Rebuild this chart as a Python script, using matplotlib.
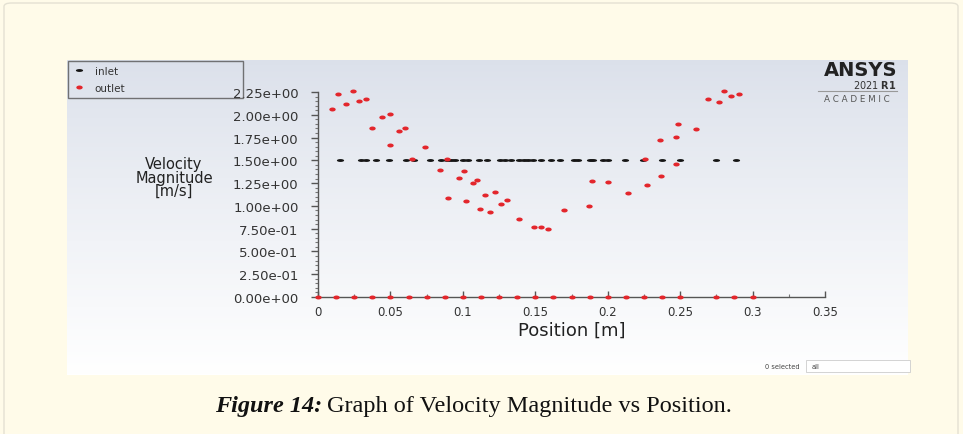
import numpy as np
import matplotlib
matplotlib.use("Agg")
import matplotlib.pyplot as plt
from matplotlib.path import Path
from matplotlib.patches import Rectangle, FancyBboxPatch
from matplotlib.ticker import MultipleLocator, AutoMinorLocator, FuncFormatter

# inlet samples (all at the same speed)
inlet_x = [0.0155, 0.030, 0.033, 0.040, 0.049, 0.061, 0.066, 0.077, 0.085, 0.089,
           0.092, 0.0945, 0.0998, 0.1037, 0.111, 0.117, 0.1255, 0.129, 0.133, 0.139,
           0.142, 0.145, 0.1485, 0.154, 0.161, 0.167, 0.1766, 0.1795, 0.1876, 0.190,
           0.197, 0.200, 0.2117, 0.2244, 0.2377, 0.250, 0.275, 0.2887]
inlet_v = [1.5] * len(inlet_x)

# outlet samples, core of the profile
outlet_x = [0.010, 0.014, 0.019, 0.024, 0.0285, 0.033, 0.037, 0.044, 0.050, 0.050,
            0.056, 0.060, 0.065, 0.074, 0.084, 0.089, 0.090, 0.097, 0.1007, 0.102,
            0.107, 0.110, 0.112, 0.115, 0.119, 0.122, 0.126, 0.1306, 0.139, 0.149,
            0.154, 0.1586, 0.170, 0.187, 0.189, 0.200, 0.214, 0.2255, 0.227, 0.236,
            0.237, 0.247, 0.247, 0.2485, 0.261, 0.2694, 0.2768, 0.280, 0.285, 0.2906]
outlet_v = [2.06, 2.23, 2.12, 2.26, 2.15, 2.17, 1.86, 1.98, 2.01, 1.67,
            1.82, 1.86, 1.51, 1.65, 1.39, 1.51, 1.09, 1.31, 1.38, 1.05,
            1.25, 1.28, 0.97, 1.12, 0.93, 1.15, 1.02, 1.06, 0.855, 0.764,
            0.764, 0.75, 0.95, 1.00, 1.27, 1.26, 1.14, 1.51, 1.23, 1.72,
            1.33, 1.455, 1.76, 1.90, 1.84, 2.17, 2.14, 2.26, 2.21, 2.23]

# outlet samples sitting on the wall (zero velocity)
wall_x = [0, 0.0125, 0.025, 0.0375, 0.05, 0.0625, 0.075, 0.0875, 0.1, 0.1125,
          0.125, 0.1375, 0.15, 0.1625, 0.175, 0.1875, 0.2, 0.2125, 0.225, 0.2375,
          0.25, 0.275, 0.2875, 0.3]
wall_v = [0.0] * len(wall_x)

W, H = 963, 435
def fx(px): return px / W
def fy(py): return 1 - py / H

def ellipse_marker(ratio):
    t = np.linspace(0, 2 * np.pi, 40)
    return Path(np.c_[np.cos(t), ratio * np.sin(t)], closed=True)

CREAM = "#fffbe9"
RED = "#e3262c"

fig = plt.figure(figsize=(W / 100, H / 100), dpi=100, facecolor=CREAM)

# card outline
fig.patches.append(FancyBboxPatch((fx(4), fy(460)), fx(954), 456 / H,
                                  boxstyle="round,pad=0,rounding_size=0.008",
                                  transform=fig.transFigure, facecolor=CREAM,
                                  edgecolor="#e4e1d3", lw=1, zorder=0))

# grey-blue gradient panel behind the plot
bg = fig.add_axes([fx(67), fy(376), fx(908 - 67), (376 - 61) / H], zorder=1)
grad = np.linspace(0, 1, 256)[:, None]
top = np.array([0.86, 0.88, 0.92])
bot = np.array([1.0, 1.0, 1.0])
img = top + (bot - top) * grad[..., None] ** 0.9
bg.imshow(np.repeat(img, 2, axis=1), aspect="auto", extent=(0, 1, 0, 1))
bg.set_axis_off()

ax = fig.add_axes([fx(318), fy(298), fx(825 - 318), (298 - 93) / H], zorder=2)
ax.set_facecolor("none")

ax.plot(inlet_x, inlet_v, ls="none", marker=ellipse_marker(0.4), ms=5.2,
        color="#151515", mec="none", label="inlet", clip_on=False)
ax.plot(outlet_x, outlet_v, ls="none", marker=ellipse_marker(0.62), ms=4.6,
        color=RED, mec="none", label="outlet", clip_on=False)
ax.plot(wall_x, wall_v, ls="none", marker=ellipse_marker(0.62), ms=4.6,
        color=RED, mec="none", clip_on=False, zorder=5)

ax.set_xlim(0, 0.35)
ax.set_ylim(0, 2.25)
for s in ["top", "right"]:
    ax.spines[s].set_visible(False)
for s in ["left", "bottom"]:
    ax.spines[s].set_color("#555555")
    ax.spines[s].set_linewidth(1.0)

ax.yaxis.set_major_locator(MultipleLocator(0.25))
ax.yaxis.set_minor_locator(AutoMinorLocator(5))
ax.yaxis.set_major_formatter(FuncFormatter(lambda v, p: f"{v:.2e}"))
ax.xaxis.set_major_locator(MultipleLocator(0.05))
ax.xaxis.set_minor_locator(MultipleLocator(0.025))
ax.xaxis.set_major_formatter(FuncFormatter(lambda v, p: f"{v:g}"))

ax.tick_params(axis="y", which="major", direction="out", length=5, width=1,
               color="#555555", labelsize=9.5, labelcolor="#333333", pad=9)
ax.tick_params(axis="y", which="minor", direction="out", length=2.5, width=0.8,
               color="#777777")
ax.tick_params(axis="x", which="major", direction="in", length=4, width=1,
               color="#555555", labelsize=8.5, labelcolor="#333333", pad=6)
ax.tick_params(axis="x", which="minor", direction="in", length=2.5, width=0.8,
               color="#777777")

ax.set_xlabel("Position [m]", fontsize=13, color="#222222", labelpad=2)
fig.text(fx(174), fy(178), "Velocity\nMagnitude\n[m/s]", ha="center", va="center",
         fontsize=10.5, color="#222222", linespacing=0.85)

# legend box in the top-left corner of the panel
leg = ax.legend(loc="upper left", bbox_to_anchor=(fx(68), fy(102), fx(175), 40 / H),
                bbox_transform=fig.transFigure, mode="expand", fontsize=7.5,
                frameon=True, fancybox=False, borderpad=0.45, labelspacing=0.7,
                handletextpad=0.9, handlelength=1.2, borderaxespad=0)
leg.get_frame().set_edgecolor("#555555")
leg.get_frame().set_facecolor("none")
leg.get_frame().set_linewidth(1.0)
for t in leg.get_texts():
    t.set_color("#333333")

# ANSYS badge
fig.text(fx(897), fy(71), "ANSYS", ha="right", va="center", fontsize=14,
         fontweight="heavy", color="#222222", zorder=5)
fig.text(fx(897), fy(85), "2021 $\\mathbf{R1}$", ha="right", va="center",
         fontsize=7, color="#333333", zorder=5)
fig.add_artist(plt.Line2D([fx(818), fx(897)], [fy(92), fy(92)], color="#999999",
                          lw=0.8, transform=fig.transFigure, zorder=5))
fig.text(fx(857), fy(100), "A C A D E M I C", ha="center", va="center",
         fontsize=6.3, color="#555555", zorder=5)

# selection widget at the bottom right
fig.text(fx(782), fy(367), "0 selected", ha="center", va="center", fontsize=4.8,
         color="#444444", zorder=5)
fig.patches.append(Rectangle((fx(806), fy(373)), fx(104), 12 / H,
                             transform=fig.transFigure, facecolor="white",
                             edgecolor="#cccccc", lw=0.6, zorder=5))
fig.text(fx(812), fy(367), "all", ha="left", va="center", fontsize=4.8,
         color="#444444", zorder=6)

# caption
cap1 = fig.text(fx(215), fy(407), "Figure 14:", ha="left", va="center",
                fontsize=17.5, fontweight="bold", fontstyle="italic",
                family="Liberation Serif", color="#111111")
r = fig.canvas.get_renderer()
bb = cap1.get_window_extent(renderer=r)
fig.text(bb.x1 / fig.dpi / fig.get_figwidth() + fx(5), fy(407),
         "Graph of Velocity Magnitude vs Position.", ha="left", va="center",
         fontsize=17.5, family="Liberation Serif", color="#111111")

fig.savefig("out.png", dpi=100, facecolor=CREAM)
